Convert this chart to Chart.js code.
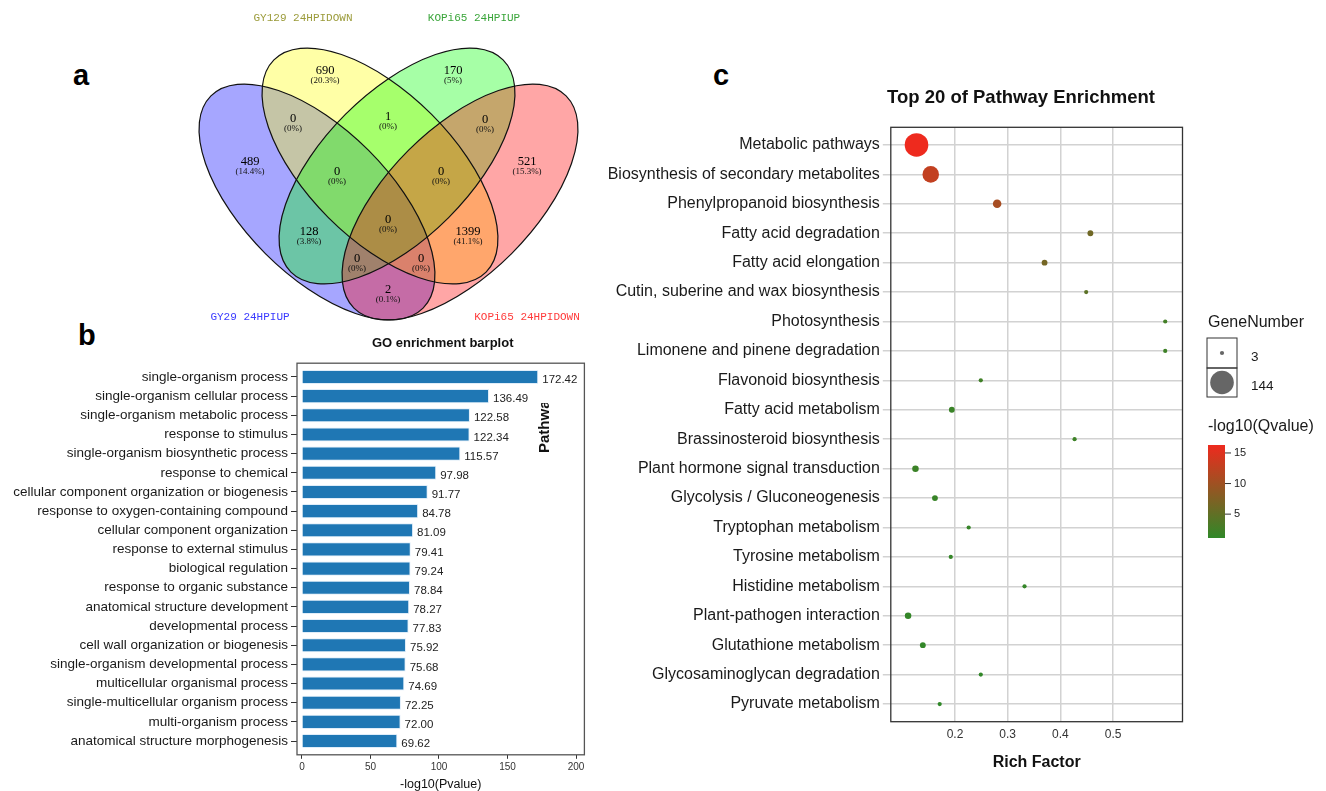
<!DOCTYPE html>
<html>
<head>
<meta charset="utf-8">
<script src="https://cdn.jsdelivr.net/npm/chart.js"></script>
<style>
  html, body { margin: 0; padding: 0; background: #fff; overflow: hidden; }
  body { width: 1326px; height: 791px; position: relative; }
  .panel { position: absolute; }
  .tag { position: absolute; font: bold 29px "Liberation Sans", Arial, sans-serif; line-height: 29px; color: #000; }
</style>
</head>
<body>
<div class="tag" style="left:73px;top:61px">a</div>
<div class="tag" style="left:78px;top:321px">b</div>
<div class="tag" style="left:713px;top:61px">c</div>

<div class="panel" style="left:180px;top:0px"><canvas id="venn" width="420" height="335"></canvas></div>
<div class="panel" style="left:0px;top:330px"><canvas id="goBar" width="600" height="461"></canvas></div>
<div class="panel" style="left:590px;top:60px"><canvas id="kegg" width="736" height="731"></canvas></div>

<script>
// ---- a: four-way Venn of DEG sets ----
var vennSets = ['GY29 24HPIUP', 'GY129 24HPIDOWN', 'KOPi65 24HPIUP', 'KOPi65 24HPIDOWN'];
var vennSetColors = ['#3a3aff', '#9b9b3a', '#3aa53a', '#ff3a3a'];
// regions: A=GY29 up, B=GY129 down, C=KOPi65 up, D=KOPi65 down
var vennRegions = ['A', 'B', 'C', 'D', 'AB', 'BC', 'CD', 'ABC', 'BCD', 'ABCD', 'AC', 'BD', 'ACD', 'ABD', 'AD'];
var vennCounts = [489, 690, 170, 521, 0, 1, 0, 0, 0, 0, 128, 1399, 0, 0, 2];

// ---- b: GO enrichment ----
var goTerms = [
  'single-organism process', 'single-organism cellular process', 'single-organism metabolic process',
  'response to stimulus', 'single-organism biosynthetic process', 'response to chemical',
  'cellular component organization or biogenesis', 'response to oxygen-containing compound',
  'cellular component organization', 'response to external stimulus', 'biological regulation',
  'response to organic substance', 'anatomical structure development', 'developmental process',
  'cell wall organization or biogenesis', 'single-organism developmental process',
  'multicellular organismal process', 'single-multicellular organism process',
  'multi-organism process', 'anatomical structure morphogenesis'
];
var goScores = [172.42, 136.49, 122.58, 122.34, 115.57, 97.98, 91.77, 84.78, 81.09, 79.41,
  79.24, 78.84, 78.27, 77.83, 75.92, 75.68, 74.69, 72.25, 72.00, 69.62];
var goTicks = [0, 50, 100, 150, 200];

// ---- c: KEGG pathway enrichment ----
var pathways = [
  'Metabolic pathways', 'Biosynthesis of secondary metabolites', 'Phenylpropanoid biosynthesis',
  'Fatty acid degradation', 'Fatty acid elongation', 'Cutin, suberine and wax biosynthesis',
  'Photosynthesis', 'Limonene and pinene degradation', 'Flavonoid biosynthesis',
  'Fatty acid metabolism', 'Brassinosteroid biosynthesis', 'Plant hormone signal transduction',
  'Glycolysis / Gluconeogenesis', 'Tryptophan metabolism', 'Tyrosine metabolism',
  'Histidine metabolism', 'Plant-pathogen interaction', 'Glutathione metabolism',
  'Glycosaminoglycan degradation', 'Pyruvate metabolism'
];
var richFactor = [0.127, 0.154, 0.280, 0.457, 0.370, 0.449, 0.599, 0.599, 0.249, 0.194,
  0.427, 0.125, 0.162, 0.226, 0.192, 0.332, 0.111, 0.139, 0.249, 0.171];
var geneNumber = [144, 60, 10, 4, 4, 3, 3, 3, 3, 4, 3, 5, 4, 3, 3, 3, 5, 4, 3, 3];
var qScore = [16.3, 12.8, 10.6, 6.2, 6.6, 4.6, 2.6, 2.2, 2.4, 1.9, 2.1, 2.0, 1.7, 1.6, 1.5,
  1.4, 1.4, 1.3, 1.2, 1.1];
var richTicks = [0.2, 0.3, 0.4, 0.5];
var sizeLegend = [3, 144];
var colorTicks = [5, 10, 15];

Chart.defaults.font.family = '"Liberation Sans", Arial, sans-serif';
Chart.defaults.animation = false;
Chart.defaults.plugins.legend.display = false;
Chart.defaults.plugins.tooltip.enabled = false;

// ================= Venn =================
// ellipse layout in canvas units (x right, y down)
var ellipses = [
  { cx: 137, cy: 202, rot: 45, rgb: '0,0,255' },
  { cx: 200, cy: 166, rot: 45, rgb: '255,255,0' },
  { cx: 217, cy: 166, rot: -45, rgb: '0,255,0' },
  { cx: 280, cy: 202, rot: -45, rgb: '255,0,0' }
];
var semiMajor = 150, semiMinor = 73;
var regionSpots = {
  A: [70, 162], B: [145, 71], C: [273, 71], D: [347, 162],
  AB: [113, 119], BC: [208, 117], CD: [305, 120],
  ABC: [157, 172], BCD: [261, 172], ABCD: [208, 220],
  AC: [129, 232], BD: [288, 232], ACD: [177, 259], ABD: [241, 259], AD: [208, 290]
};
var setSpots = [[70, 317], [123, 18], [294, 18], [347, 317]];

var vennTotal = vennCounts.reduce(function (s, v) { return s + v; }, 0);

var vennPlugin = {
  id: 'vennShapes',
  beforeDatasetsDraw: function (chart) {
    var ctx = chart.ctx, sx = chart.scales.x, sy = chart.scales.y;
    var unit = sx.getPixelForValue(1) - sx.getPixelForValue(0);
    function path(e) {
      ctx.beginPath();
      ctx.ellipse(sx.getPixelForValue(e.cx), sy.getPixelForValue(e.cy),
        semiMajor * unit, semiMinor * unit, e.rot * Math.PI / 180, 0, Math.PI * 2);
    }
    ctx.save();
    ellipses.forEach(function (e) {
      path(e);
      ctx.fillStyle = 'rgba(' + e.rgb + ',0.35)';
      ctx.fill();
    });
    ctx.strokeStyle = '#111';
    ctx.lineWidth = 1.2;
    ellipses.forEach(function (e) { path(e); ctx.stroke(); });
    ctx.restore();
  },
  afterDatasetsDraw: function (chart) {
    var ctx = chart.ctx, sx = chart.scales.x, sy = chart.scales.y;
    ctx.save();
    ctx.textAlign = 'center';
    ctx.textBaseline = 'middle';
    chart.getDatasetMeta(0).data.forEach(function (pt, i) {
      var n = vennCounts[i];
      var pct = Math.round(n / vennTotal * 1000) / 10;
      ctx.fillStyle = '#000';
      ctx.font = '12.5px "Liberation Serif", serif';
      ctx.fillText(String(n), pt.x, pt.y);
      ctx.fillStyle = '#111';
      ctx.font = '9px "Liberation Serif", serif';
      ctx.fillText('(' + pct + '%)', pt.x, pt.y + 10);
    });
    ctx.font = '11px "Liberation Mono", monospace';
    vennSets.forEach(function (name, i) {
      ctx.fillStyle = vennSetColors[i];
      ctx.fillText(name, sx.getPixelForValue(setSpots[i][0]), sy.getPixelForValue(setSpots[i][1]));
    });
    ctx.restore();
  }
};

new Chart(document.getElementById('venn'), {
  type: 'scatter',
  data: {
    datasets: [{
      data: vennRegions.map(function (r) { return { x: regionSpots[r][0], y: regionSpots[r][1] }; }),
      pointRadius: 0
    }]
  },
  options: {
    responsive: false,
    devicePixelRatio: 1,
    layout: { padding: 0 },
    scales: {
      x: { type: 'linear', min: 0, max: 420, display: false },
      y: { type: 'linear', min: 0, max: 335, reverse: true, display: false }
    }
  },
  plugins: [vennPlugin]
});

// ================= GO barplot =================
var goDecor = {
  id: 'goDecor',
  afterDatasetsDraw: function (chart) {
    var ctx = chart.ctx, a = chart.chartArea;
    ctx.save();
    ctx.strokeStyle = '#555';
    ctx.lineWidth = 1.3;
    ctx.strokeRect(a.left, a.top, a.right - a.left, a.bottom - a.top);

    ctx.fillStyle = '#222';
    ctx.font = '11.5px "Liberation Sans", Arial, sans-serif';
    ctx.textAlign = 'left';
    ctx.textBaseline = 'middle';
    chart.getDatasetMeta(0).data.forEach(function (bar, i) {
      ctx.fillText(goScores[i].toFixed(2), bar.x + 4, bar.y + 3);
    });

    ctx.fillStyle = '#111';
    ctx.font = 'bold 13px "Liberation Sans", Arial, sans-serif';
    ctx.textAlign = 'center';
    ctx.fillText('GO enrichment barplot', (a.left + a.right) / 2 + 2, a.top - 20);

    // axis title of the neighbouring dot plot, cut off at the top
    ctx.beginPath();
    ctx.rect(0, 73, 600, 400);
    ctx.clip();
    ctx.translate(549, 123);
    ctx.rotate(-Math.PI / 2);
    ctx.font = 'bold 15px "Liberation Sans", Arial, sans-serif';
    ctx.textAlign = 'left';
    ctx.textBaseline = 'alphabetic';
    ctx.fillText('Pathway', 0, 0);
    ctx.restore();
  }
};

new Chart(document.getElementById('goBar'), {
  type: 'bar',
  data: {
    datasets: [{
      data: goScores.map(function (v, i) { return { x: v, y: i }; }),
      backgroundColor: '#1f77b4',
      borderColor: 'rgba(220,235,248,0.9)',
      borderWidth: 1,
      categoryPercentage: 0.8,
      barPercentage: 0.92
    }]
  },
  options: {
    responsive: false,
    devicePixelRatio: 1,
    indexAxis: 'y',
    layout: { padding: { top: 33.2, right: 15.6, left: 0, bottom: 0 } },
    scales: {
      y: {
        type: 'linear', min: -0.72, max: 19.72, reverse: true, offset: false,
        afterBuildTicks: function (s) { s.ticks = goTerms.map(function (t, i) { return { value: i }; }); },
        afterFit: function (s) { s.width = 297; },
        ticks: {
          autoSkip: false, padding: 3, color: '#1a1a1a',
          font: { size: 13.5 },
          callback: function (v) { return goTerms[v]; }
        },
        grid: { drawOnChartArea: false, offset: false, tickLength: 6, color: '#333' },
        border: { display: false }
      },
      x: {
        type: 'linear', min: -3.6, max: 206.1,
        afterBuildTicks: function (s) { s.ticks = goTicks.map(function (v) { return { value: v }; }); },
        afterFit: function (s) { s.height = 36.2; },
        ticks: { padding: 2, color: '#333', font: { size: 10 } },
        grid: { drawOnChartArea: false, tickLength: 4, color: '#333' },
        border: { display: false },
        title: {
          display: true, text: '-log10(Pvalue)', color: '#111',
          font: { size: 12.5, lineHeight: 1 }, padding: { top: 0, bottom: 0 }
        }
      }
    }
  },
  plugins: [goDecor]
});

// ================= KEGG dot plot =================
var qMin = Math.min.apply(null, qScore), qMax = Math.max.apply(null, qScore);
var lowColor = [48, 136, 40], highColor = [238, 42, 30];
function qColor(q) {
  var t = (q - qMin) / (qMax - qMin);
  var c = lowColor.map(function (l, k) { return Math.round(l + (highColor[k] - l) * t); });
  return 'rgb(' + c.join(',') + ')';
}
var nMin = Math.min.apply(null, geneNumber), nMax = Math.max.apply(null, geneNumber);
function bubbleRadius(n) {
  return 2.1 + (11.8 - 2.1) * Math.sqrt((n - nMin) / (nMax - nMin));
}

var keggDecor = {
  id: 'keggDecor',
  afterDraw: function (chart) {
    var ctx = chart.ctx, a = chart.chartArea;
    ctx.save();
    ctx.strokeStyle = '#333';
    ctx.lineWidth = 1.3;
    ctx.strokeRect(a.left, a.top, a.right - a.left, a.bottom - a.top);

    ctx.fillStyle = '#111';
    ctx.textAlign = 'center';
    ctx.textBaseline = 'middle';
    ctx.font = 'bold 18.5px "Liberation Sans", Arial, sans-serif';
    ctx.fillText('Top 20 of Pathway Enrichment', 431, a.top - 29);

    // size legend
    var lx = a.right + 24.5;
    ctx.textAlign = 'left';
    ctx.font = '16px "Liberation Sans", Arial, sans-serif';
    ctx.fillStyle = '#1a1a1a';
    ctx.fillText('GeneNumber', lx + 1, 263);
    var cellTop = [278, 308], cellH = [30, 29];
    sizeLegend.forEach(function (n, i) {
      ctx.strokeStyle = '#333';
      ctx.lineWidth = 1;
      ctx.strokeRect(lx, cellTop[i], 30, cellH[i]);
      ctx.beginPath();
      ctx.arc(lx + 15, cellTop[i] + cellH[i] / 2, bubbleRadius(n), 0, Math.PI * 2);
      ctx.fillStyle = '#666';
      ctx.fill();
      ctx.fillStyle = '#1a1a1a';
      ctx.font = '13.5px "Liberation Sans", Arial, sans-serif';
      ctx.fillText(String(n), lx + 44, cellTop[i] + cellH[i] / 2 + 4);
    });

    // colour bar
    ctx.font = '16px "Liberation Sans", Arial, sans-serif';
    ctx.fillText('-log10(Qvalue)', lx + 1, 367);
    var bx = lx + 1, by = 385, bw = 17, bh = 93;
    var grad = ctx.createLinearGradient(0, by, 0, by + bh);
    grad.addColorStop(0, qColor(qMax));
    grad.addColorStop(0.5, qColor((qMax + qMin) / 2));
    grad.addColorStop(1, qColor(qMin));
    ctx.fillStyle = grad;
    ctx.fillRect(bx, by, bw, bh);
    ctx.strokeStyle = '#333';
    ctx.lineWidth = 1;
    ctx.font = '11px "Liberation Sans", Arial, sans-serif';
    ctx.fillStyle = '#222';
    colorTicks.forEach(function (v) {
      var ty = by + (qMax - v) / (qMax - qMin) * bh;
      ctx.beginPath();
      ctx.moveTo(bx + bw, ty);
      ctx.lineTo(bx + bw + 6, ty);
      ctx.stroke();
      ctx.fillText(String(v), bx + bw + 9, ty);
    });
    ctx.restore();
  }
};

new Chart(document.getElementById('kegg'), {
  type: 'bubble',
  data: {
    datasets: [{
      data: pathways.map(function (p, i) {
        return { x: richFactor[i], y: i, r: bubbleRadius(geneNumber[i]) };
      }),
      backgroundColor: function (c) { return qColor(qScore[c.dataIndex]); },
      borderWidth: 0
    }]
  },
  options: {
    responsive: false,
    devicePixelRatio: 1,
    layout: { padding: { top: 67.3, right: 143.5, left: 0, bottom: 0 } },
    scales: {
      y: {
        type: 'linear', min: -0.6, max: 19.6, reverse: true,
        afterBuildTicks: function (s) { s.ticks = pathways.map(function (p, i) { return { value: i }; }); },
        afterFit: function (s) { s.width = 300.8; },
        ticks: {
          autoSkip: false, padding: 3, color: '#1a1a1a',
          font: { size: 16 },
          callback: function (v) { return pathways[v]; }
        },
        grid: { color: '#d2d2d2', lineWidth: 1.5, tickLength: 8 },
        border: { display: false }
      },
      x: {
        type: 'linear', min: 0.0782, max: 0.6318,
        afterBuildTicks: function (s) { s.ticks = richTicks.map(function (v) { return { value: v }; }); },
        afterFit: function (s) { s.height = 69.3; },
        ticks: {
          padding: 6, color: '#333', font: { size: 12 },
          callback: function (v) { return v.toFixed(1); }
        },
        grid: { color: '#d2d2d2', lineWidth: 1.5, drawTicks: false },
        border: { display: false },
        title: {
          display: true, text: 'Rich Factor', color: '#111',
          font: { size: 16, weight: 'bold', lineHeight: 1 }, padding: { top: 0, bottom: 20 }
        }
      }
    }
  },
  plugins: [keggDecor]
});
</script>
</body>
</html>
